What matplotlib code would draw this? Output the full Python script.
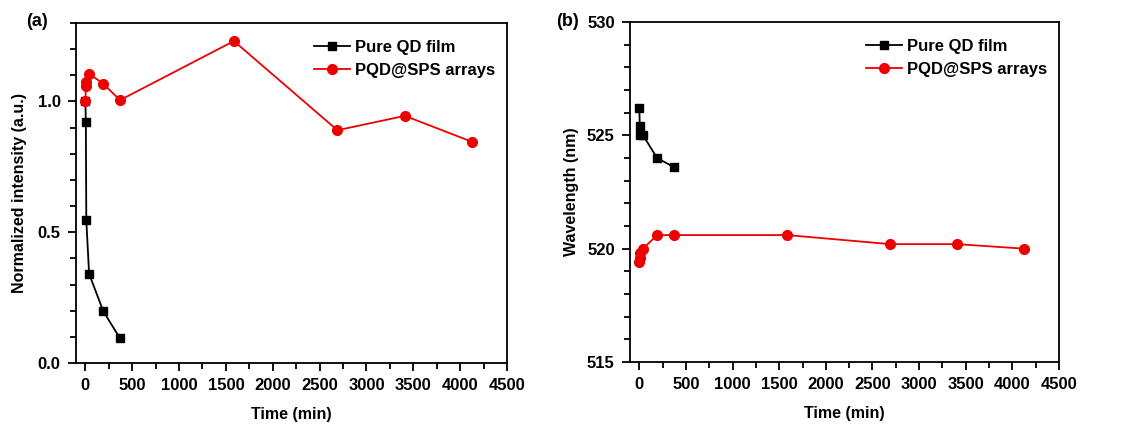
import numpy as np
import matplotlib.pyplot as plt
from matplotlib.ticker import MultipleLocator

plt.rcParams['font.family'] = ['Liberation Sans', 'DejaVu Sans']
plt.rcParams['font.weight'] = 'bold'
plt.rcParams['axes.labelweight'] = 'bold'

# --- data ---
time_qd = [0, 5, 10, 40, 190, 370]
time_sps = [0, 5, 10, 40, 190, 370, 1585, 2690, 3410, 4125]

intensity_qd = [1.0, 0.921, 0.545, 0.341, 0.199, 0.094]
intensity_sps = [1.0, 1.061, 1.074, 1.106, 1.068, 1.005, 1.231, 0.890, 0.945, 0.846]

wavelength_qd = [526.2, 525.4, 525.0, 525.0, 524.0, 523.6]
wavelength_sps = [519.4, 519.6, 519.8, 520.0, 520.6, 520.6, 520.6, 520.2, 520.2, 520.0]


def style_axis(ax):
    ax.set_xlim(-100, 4500)
    ax.xaxis.set_major_locator(MultipleLocator(500))
    ax.xaxis.set_minor_locator(MultipleLocator(250))
    ax.tick_params(which='both', direction='out', top=False, right=False,
                   width=1.3, labelsize=12)
    ax.tick_params(which='major', length=6, pad=5)
    ax.tick_params(which='minor', length=4)
    for s in ax.spines.values():
        s.set_linewidth(1.3)
    ax.set_xlabel('Time (min)', fontsize=11.5, labelpad=10)
    ax.legend(loc='upper right', bbox_to_anchor=(1.0, 0.985), frameon=False, fontsize=12,
              handlelength=2.2, handletextpad=0.3, borderaxespad=0.3,
              labelspacing=0.5)


fig = plt.figure(figsize=(11.23, 4.3), dpi=100)
ax1 = fig.add_axes([76 / 1123, 1 - 363 / 430, 431 / 1123, 340 / 430])
ax2 = fig.add_axes([630 / 1123, 1 - 362 / 430, 429 / 1123, 340 / 430])

# (a) normalized intensity
ax1.plot(time_qd, intensity_qd, '-s', color='black', lw=1.3, ms=6, label='Pure QD film')
ax1.plot(time_sps, intensity_sps, '-o', color='#ee0000', lw=1.3, ms=7, label='PQD@SPS arrays')
ax1.set_ylim(0, 1.3)
ax1.yaxis.set_major_locator(MultipleLocator(0.5))
ax1.yaxis.set_minor_locator(MultipleLocator(0.1))
ax1.set_ylabel('Normalized intensity (a.u.)', fontsize=11.5, labelpad=8)
style_axis(ax1)

# (b) wavelength
ax2.plot(time_qd, wavelength_qd, '-s', color='black', lw=1.3, ms=6, label='Pure QD film')
ax2.plot(time_sps, wavelength_sps, '-o', color='#ee0000', lw=1.3, ms=7, label='PQD@SPS arrays')
ax2.set_ylim(515, 530)
ax2.yaxis.set_major_locator(MultipleLocator(5))
ax2.yaxis.set_minor_locator(MultipleLocator(1))
ax2.set_ylabel('Wavelength (nm)', fontsize=11.5, labelpad=6)
style_axis(ax2)

fig.text(26 / 1123, 1 - 22 / 430, '(a)', fontsize=13, fontweight='bold', va='center')
fig.text(556 / 1123, 1 - 22 / 430, '(b)', fontsize=13, fontweight='bold', va='center')

fig.savefig('out.png', dpi=100)
